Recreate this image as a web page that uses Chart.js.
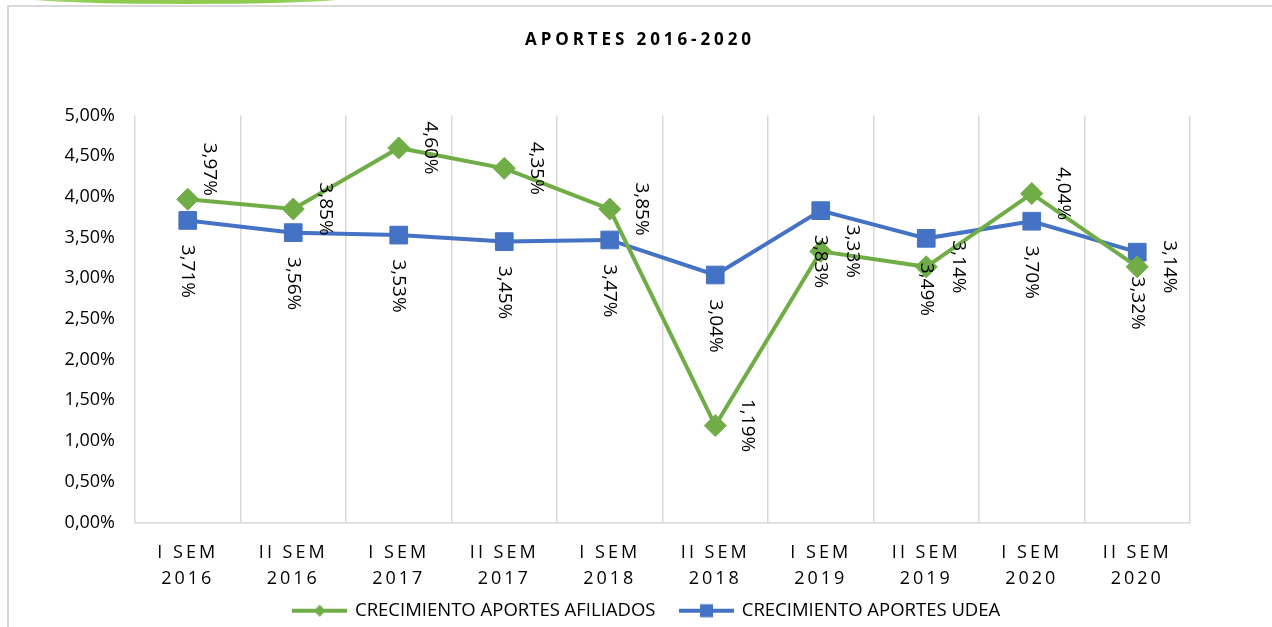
<!DOCTYPE html>
<html>
<head>
<meta charset="utf-8">
<script src="https://cdn.jsdelivr.net/npm/chart.js@4/dist/chart.umd.min.js"></script>
<style>
  html, body { margin: 0; padding: 0; background: #fff; }
  #wrap { position: relative; width: 1272px; height: 627px; overflow: hidden; background: #fff; }
  #c { position: absolute; left: 0; top: 0; }
  #frame { position: absolute; left: 7px; top: 5px; width: 1270px; height: 630px;
           border-left: 2px solid #d9d9d9; border-top: 2px solid #d9d9d9; pointer-events: none; }
  #deco { position: absolute; left: 12px; top: -12px; width: 348px; height: 16px; border-radius: 50%;
          background: linear-gradient(90deg, #b5df8c 0%, #8dcc4f 25%, #8dcc4f 75%, #b5df8c 100%); }
</style>
</head>
<body>
<div id="wrap">
  <canvas id="c" width="1272" height="630"></canvas>
  <div id="frame"></div>
  <div id="deco"></div>
</div>
<script>
// ---- data ----
const categories = [
  ["I SEM", "2016"], ["II SEM", "2016"], ["I SEM", "2017"], ["II SEM", "2017"],
  ["I SEM", "2018"], ["II SEM", "2018"], ["I SEM", "2019"], ["II SEM", "2019"],
  ["I SEM", "2020"], ["II SEM", "2020"]
];
const afiliados = [3.97, 3.85, 4.60, 4.35, 3.85, 1.19, 3.33, 3.14, 4.04, 3.14];
const udea = [3.71, 3.56, 3.53, 3.45, 3.47, 3.04, 3.83, 3.49, 3.70, 3.32];
const seriesNames = ["CRECIMIENTO APORTES AFILIADOS", "CRECIMIENTO APORTES UDEA"];
const chartTitle = "APORTES 2016-2020";
const yMin = 0, yMax = 5, yStep = 0.5;

// ---- styling ----
const GREEN = "#70AD47", BLUE = "#4472C4";
const FONT = '"Open Sans", "DejaVu Sans", sans-serif';
Chart.defaults.font.family = FONT;
Chart.defaults.color = "#000";

const fmt = v => v.toFixed(2).replace(".", ",") + "%";

// category scale with letter-spaced, unclipped labels
class SpacedCategoryScale extends Chart.CategoryScale {
  _computeLabelArea() { return undefined; }
  drawLabels(area) {
    const ctx = this.ctx;
    ctx.save();
    ctx.letterSpacing = "3px";
    super.drawLabels(area);
    ctx.restore();
  }
}
SpacedCategoryScale.id = "spacedCategory";
SpacedCategoryScale.defaults = Chart.CategoryScale.defaults;
Chart.register(SpacedCategoryScale);

function legendIcon(color, kind) {
  const c = document.createElement("canvas");
  c.width = 55; c.height = 16;
  const g = c.getContext("2d");
  g.strokeStyle = color; g.lineWidth = 4;
  g.beginPath(); g.moveTo(0, 8); g.lineTo(55, 8); g.stroke();
  g.fillStyle = color;
  if (kind === "diamond") {
    g.beginPath(); g.moveTo(27.5, 2); g.lineTo(33.5, 8); g.lineTo(27.5, 14); g.lineTo(21.5, 8); g.closePath(); g.fill();
  } else {
    g.fillRect(21, 1.5, 13, 13);
  }
  return c;
}
const icons = [legendIcon(GREEN, "diamond"), legendIcon(BLUE, "square")];

// shift / letter-space the title and legend blocks
function wrapDraw(block, dx, spacing) {
  if (!block || block._wrapped) return;
  const orig = block.draw;
  block.draw = function () {
    const ctx = this.ctx;
    ctx.save();
    ctx.translate(dx, 0);
    if (spacing) ctx.letterSpacing = spacing;
    orig.apply(this, arguments);
    ctx.restore();
  };
  block._wrapped = true;
}
const blockTweaks = {
  id: "blockTweaks",
  beforeDraw(chart) {
    wrapDraw(chart.titleBlock, 40, "3.9px");
    wrapDraw(chart.legend, 47, null);
  }
};

const rotLabels = {
  id: "rotLabels",
  afterDatasetsDraw(chart) {
    const ctx = chart.ctx;
    chart.data.datasets.forEach((ds, di) => {
      const meta = chart.getDatasetMeta(di);
      meta.data.forEach((pt, i) => {
        let x, y;
        if (di === 0) {
          x = pt.x + 32; y = pt.y;
          if (i === 0) { x = pt.x + 22; y = pt.y - 30; }
        } else {
          x = pt.x; y = pt.y + 51;
        }
        ctx.save();
        ctx.translate(x, y);
        ctx.rotate(Math.PI / 2);
        ctx.font = '19px ' + FONT;
        ctx.fillStyle = "#000";
        ctx.textAlign = "center";
        ctx.textBaseline = "middle";
        ctx.fillText(fmt(ds.data[i]), 0, 0);
        ctx.restore();
      });
    });
  }
};

new Chart(document.getElementById("c"), {
  type: "line",
  data: {
    labels: categories,
    datasets: [
      {
        label: seriesNames[0], data: afiliados,
        borderColor: GREEN, backgroundColor: GREEN, borderWidth: 4,
        pointStyle: "rectRot", pointRadius: 11, pointBorderWidth: 1,
        pointBackgroundColor: GREEN, pointBorderColor: GREEN, tension: 0
      },
      {
        label: seriesNames[1], data: udea,
        borderColor: BLUE, backgroundColor: BLUE, borderWidth: 4,
        pointStyle: "rect", pointRadius: 12.5, pointBorderWidth: 1,
        pointBackgroundColor: BLUE, pointBorderColor: BLUE, tension: 0
      }
    ]
  },
  options: {
    responsive: false,
    animation: false,
    devicePixelRatio: 1,
    layout: { padding: { left: 10, right: 82, top: 0, bottom: 0 } },
    plugins: {
      title: {
        display: true, text: chartTitle, color: "#000",
        font: { size: 17, weight: "bold", family: FONT, lineHeight: 1.2 },
        padding: { top: 30, bottom: 65 }
      },
      legend: {
        position: "bottom",
        labels: {
          usePointStyle: true, pointStyleWidth: 52, boxHeight: 18.5,
          padding: 25, color: "#000",
          font: { size: 18.5, family: FONT },
          generateLabels: (chart) => chart.data.datasets.map((ds, i) => ({
            text: ds.label, pointStyle: icons[i], fillStyle: ds.borderColor,
            strokeStyle: ds.borderColor, lineWidth: 0, hidden: false, datasetIndex: i, fontColor: "#000"
          }))
        }
      },
      tooltip: { enabled: false }
    },
    scales: {
      x: {
        type: "spacedCategory",
        offset: true,
        grid: { offset: true, color: "#d9d9d9", lineWidth: 1.5, drawTicks: false },
        border: { color: "#d9d9d9", width: 1.5 },
        ticks: { color: "#000", font: { size: 18, family: FONT, lineHeight: 1.45 }, padding: 17, maxRotation: 0, autoSkip: false },
        afterFit: s => { s.height = 54; }
      },
      y: {
        min: yMin, max: yMax,
        grid: { display: false, drawTicks: false },
        border: { display: false },
        ticks: { stepSize: yStep, color: "#000", font: { size: 18, family: FONT }, padding: 20, callback: v => fmt(v) },
        afterFit: s => { s.width = 125; }
      }
    }
  },
  plugins: [blockTweaks, rotLabels]
});
</script>
</body>
</html>
